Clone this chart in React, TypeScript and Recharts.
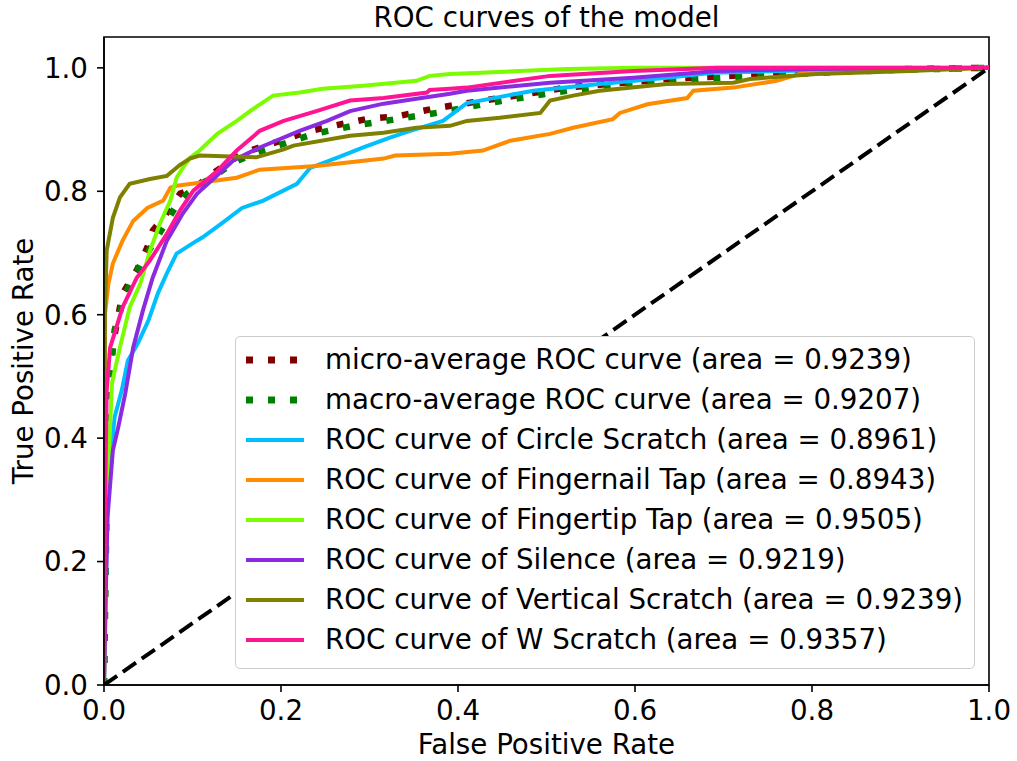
import React from 'react';
import { LineChart, Line, XAxis, YAxis, ReferenceArea, Legend } from 'recharts';

type Pt = { x: number; y: number };
const toPts = (a: number[][]): Pt[] => a.map(([x, y]) => ({ x, y }));

const microAvg = [[0,0],[0.002,0.3],[0.003,0.45],[0.005,0.51],[0.01,0.553],[0.021,0.634],[0.037,0.672],[0.049,0.709],[0.055,0.736],[0.067,0.757],[0.086,0.796],[0.103,0.806],[0.122,0.828],[0.148,0.854],[0.165,0.866],[0.2,0.882],[0.233,0.898],[0.259,0.906],[0.297,0.917],[0.333,0.922],[0.376,0.935],[0.447,0.951],[0.523,0.968],[0.636,0.982],[0.749,0.99],[0.824,0.995],[0.9,0.998],[1,1]];
const macroAvg = [[0,0],[0.003,0.3],[0.006,0.48],[0.012,0.575],[0.024,0.634],[0.033,0.66],[0.044,0.688],[0.067,0.742],[0.08,0.773],[0.094,0.796],[0.11,0.812],[0.13,0.83],[0.148,0.848],[0.179,0.866],[0.214,0.882],[0.237,0.893],[0.281,0.906],[0.331,0.917],[0.376,0.927],[0.447,0.946],[0.523,0.963],[0.636,0.979],[0.749,0.988],[0.824,0.993],[0.9,0.997],[1,1]];
const circleScratch = [[0,0],[0.002,0.15],[0.004,0.3],[0.007,0.36],[0.012,0.434],[0.02,0.477],[0.027,0.526],[0.038,0.553],[0.05,0.59],[0.061,0.635],[0.071,0.667],[0.082,0.699],[0.105,0.72],[0.111,0.725],[0.133,0.748],[0.156,0.773],[0.18,0.785],[0.218,0.812],[0.233,0.838],[0.263,0.854],[0.293,0.871],[0.323,0.887],[0.346,0.898],[0.383,0.914],[0.41,0.943],[0.44,0.951],[0.485,0.963],[0.56,0.974],[0.636,0.984],[0.688,0.992],[0.8,0.996],[1,1]];
const fingernailTap = [[0,0],[0.001,0.6],[0.005,0.65],[0.01,0.683],[0.021,0.72],[0.033,0.752],[0.049,0.773],[0.067,0.785],[0.075,0.806],[0.082,0.809],[0.108,0.814],[0.15,0.822],[0.176,0.835],[0.24,0.841],[0.316,0.853],[0.329,0.858],[0.391,0.861],[0.428,0.866],[0.459,0.882],[0.504,0.893],[0.53,0.903],[0.575,0.917],[0.583,0.927],[0.614,0.941],[0.659,0.951],[0.666,0.963],[0.711,0.968],[0.76,0.979],[0.786,0.99],[0.82,0.995],[1,1]];
const fingertipTap = [[0,0],[0.002,0.2],[0.004,0.327],[0.009,0.489],[0.018,0.547],[0.029,0.612],[0.041,0.65],[0.052,0.704],[0.063,0.747],[0.075,0.785],[0.082,0.822],[0.089,0.838],[0.097,0.854],[0.108,0.866],[0.128,0.893],[0.15,0.914],[0.165,0.93],[0.191,0.955],[0.221,0.96],[0.247,0.966],[0.293,0.971],[0.353,0.979],[0.368,0.987],[0.391,0.99],[0.523,0.998],[0.6,1],[1,1]];
const silence = [[0,0],[0.002,0.15],[0.004,0.272],[0.01,0.38],[0.016,0.417],[0.024,0.472],[0.033,0.547],[0.044,0.607],[0.055,0.66],[0.071,0.72],[0.089,0.764],[0.105,0.796],[0.125,0.822],[0.146,0.85],[0.176,0.871],[0.221,0.898],[0.252,0.914],[0.278,0.93],[0.316,0.942],[0.353,0.95],[0.391,0.958],[0.41,0.963],[0.504,0.976],[0.598,0.984],[0.693,0.995],[0.8,0.998],[1,1]];
const verticalScratch = [[0,0],[0.001,0.6],[0.003,0.704],[0.01,0.757],[0.018,0.79],[0.029,0.812],[0.052,0.82],[0.071,0.825],[0.086,0.843],[0.097,0.853],[0.108,0.858],[0.172,0.855],[0.203,0.868],[0.214,0.874],[0.278,0.89],[0.316,0.895],[0.353,0.903],[0.391,0.906],[0.41,0.914],[0.447,0.919],[0.493,0.927],[0.504,0.947],[0.53,0.955],[0.56,0.963],[0.636,0.974],[0.711,0.976],[0.73,0.982],[0.805,0.99],[0.91,0.995],[1,1]];
const wScratch = [[0,0],[0.001,0.272],[0.003,0.477],[0.007,0.547],[0.021,0.612],[0.037,0.66],[0.052,0.688],[0.071,0.731],[0.086,0.769],[0.101,0.801],[0.128,0.833],[0.15,0.866],[0.176,0.898],[0.203,0.914],[0.24,0.93],[0.278,0.947],[0.316,0.951],[0.365,0.96],[0.368,0.964],[0.391,0.966],[0.41,0.968],[0.504,0.987],[0.598,0.995],[0.693,1],[1,1]];
const chanceLine = [[0,0],[1,1]];

const seriesNames = ['micro-average ROC curve', 'macro-average ROC curve', 'Circle Scratch', 'Fingernail Tap', 'Fingertip Tap', 'Silence', 'Vertical Scratch', 'W Scratch'];
const seriesAreas = ['0.9239', '0.9207', '0.8961', '0.8943', '0.9505', '0.9219', '0.9239', '0.9357'];
const seriesData = [microAvg, macroAvg, circleScratch, fingernailTap, fingertipTap, silence, verticalScratch, wScratch];
const seriesColors = ['#800000', '#008000', '#00BFFF', '#FF8C00', '#7CFC00', '#8A2BE2', '#808000', '#FF1493'];
const xTicks = [0, 0.2, 0.4, 0.6, 0.8, 1.0];
const yTicks = [0, 0.2, 0.4, 0.6, 0.8, 1.0];

const FONT = '"DejaVu Sans", sans-serif';
const FS = 27.7;

const labelFor = (i: number) =>
  i < 2 ? `${seriesNames[i]} (area = ${seriesAreas[i]})` : `ROC curve of ${seriesNames[i]} (area = ${seriesAreas[i]})`;

const LegendBox = () => (
  <div
    style={{
      width: 740,
      height: 333,
      boxSizing: 'border-box',
      border: '1.5px solid #cccccc',
      borderRadius: 5,
      background: '#ffffff',
      fontFamily: FONT,
      fontSize: FS,
      color: '#000',
      position: 'relative',
      textAlign: 'left',
    }}
  >
    {seriesNames.map((_, i) => (
      <div key={i} style={{ position: 'absolute', left: 0, top: 23 + i * 40 - 20, height: 40, width: 740 }}>
        <svg width={70} height={40} style={{ position: 'absolute', left: 0, top: 0 }}>
          <line
            x1={10}
            x2={68}
            y1={20}
            y2={20}
            stroke={seriesColors[i]}
            strokeWidth={i < 2 ? 7 : 4}
            strokeDasharray={i < 2 ? '7 15' : undefined}
          />
        </svg>
        <div style={{ position: 'absolute', left: 89, top: 0, height: 40, lineHeight: '40px', whiteSpace: 'nowrap' }}>
          {labelFor(i)}
        </div>
      </div>
    ))}
  </div>
);

export default function App() {
  return (
    <div style={{ position: 'absolute', left: 0, top: 0, width: 1017, height: 761, background: '#fff', fontFamily: FONT }}>
      <LineChart width={1017} height={761} margin={{ top: 37, right: 28, bottom: 0, left: 0 }}>
        <XAxis
          type="number"
          dataKey="x"
          domain={[0, 1]}
          ticks={xTicks}
          allowDataOverflow
          height={76}
          tickSize={7}
          tickMargin={8}
          tickFormatter={(v: number) => v.toFixed(1)}
          tick={{ fill: '#000', fontSize: FS, fontFamily: FONT }}
          stroke="#000"
          axisLine={{ stroke: '#000', strokeWidth: 1.6 }}
          tickLine={{ stroke: '#000', strokeWidth: 1.6 }}
        />
        <YAxis
          type="number"
          dataKey="y"
          domain={[0, 1.05]}
          ticks={yTicks}
          allowDataOverflow
          width={104}
          tickSize={7}
          tickMargin={9}
          tickFormatter={(v: number) => v.toFixed(1)}
          tick={{ fill: '#000', fontSize: FS, fontFamily: FONT }}
          stroke="#000"
          axisLine={{ stroke: '#000', strokeWidth: 1.6 }}
          tickLine={{ stroke: '#000', strokeWidth: 1.6 }}
        />
        <ReferenceArea x1={0} x2={1} y1={0} y2={1.05} fill="none" stroke="#000" strokeWidth={1.6} ifOverflow="visible" />
        {seriesData.map((d, i) => (
          <Line
            key={seriesNames[i]}
            data={toPts(d)}
            dataKey="y"
            type="linear"
            stroke={seriesColors[i]}
            strokeWidth={i < 2 ? 6.5 : 4}
            strokeDasharray={i < 2 ? '7 15' : undefined}
            dot={false}
            activeDot={false}
            isAnimationActive={false}
            name={labelFor(i)}
          />
        ))}
        <Line
          data={toPts(chanceLine)}
          dataKey="y"
          type="linear"
          stroke="#000"
          strokeWidth={4}
          strokeDasharray="16 7"
          dot={false}
          activeDot={false}
          isAnimationActive={false}
          legendType="none"
        />
        <Legend
          layout="horizontal"
          verticalAlign="middle"
          align="center"
          content={() => <LegendBox />}
          wrapperStyle={{ position: 'absolute', left: 235, top: 336, width: 740, height: 333, margin: 0 }}
        />
      </LineChart>
      <div style={{ position: 'absolute', left: 104, width: 885, top: 4, textAlign: 'center', fontSize: FS, lineHeight: `${FS}px`, color: '#000' }}>
        ROC curves of the model
      </div>
      <div style={{ position: 'absolute', left: 104, width: 885, top: 731, textAlign: 'center', fontSize: FS, lineHeight: `${FS}px`, color: '#000' }}>
        False Positive Rate
      </div>
      <div
        style={{
          position: 'absolute',
          left: 24,
          top: 361,
          transform: 'translate(-50%, -50%) rotate(-90deg)',
          fontSize: FS,
          lineHeight: `${FS}px`,
          whiteSpace: 'nowrap',
          color: '#000',
        }}
      >
        True Positive Rate
      </div>
    </div>
  );
}
